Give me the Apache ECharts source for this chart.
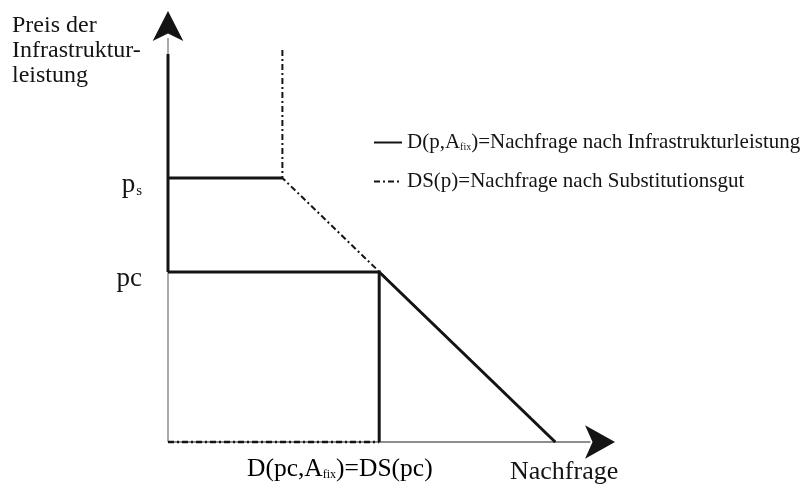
<!DOCTYPE html>
<html>
<head>
<meta charset="utf-8">
<script src="https://cdn.jsdelivr.net/npm/echarts@6/dist/echarts.min.js"></script>
<style>
  html, body { margin: 0; padding: 0; background: #fff; }
  #chart { width: 804px; height: 489px; }
</style>
</head>
<body>
<div id="chart"></div>
<script>
// Price levels (vertical axis units)
const priceSubst = 66;      // p_s
const priceCap = 42.5;      // pc
const priceTop = 97;        // upper end of the demand curve on the price axis
const substTop = 98;        // upper end of the substitute's vertical branch

// Quantities (horizontal axis units)
const qtySubst = 26;        // kink of the substitute demand
const qtyCap = 48;          // D(pc,A_fix) = DS(pc)
const qtyMax = 88;          // demand at price zero

// Demand for the infrastructure service D(p, A_fix)
const demandVertical = [[0, priceTop], [0, priceCap]];
const demandAtPs = [[0, priceSubst], [qtySubst, priceSubst]];
const demandAtPc = [[0, priceCap], [qtyCap, priceCap], [qtyCap, 0]];
const demandSlope = [[qtyCap, priceCap], [qtyMax, 0]];

// Demand for the substitute DS(p)
const substCurve = [[qtySubst, substTop], [qtySubst, priceSubst], [qtyMax, 0]];
const substBase = [[0, 0], [qtyCap, 0]];

// Coordinate axes with arrow heads (arrow tips at the given points)
const axisY = [[0, 0], [0, 101]];
const axisX = [[0, 0], [96, 0]];
const arrowY = [[0, 107.75]];
const arrowX = [[101.6, 0]];

// Tick labels on the price axis
const priceTicks = [priceCap, priceSubst];
const priceTickLabels = { [priceCap]: '{p|pc}', [priceSubst]: '{p|p}{s|s}' };

const NAME_D = 'D(p,A_fix)=Nachfrage nach Infrastrukturleistung';
const NAME_DS = 'DS(p)=Nachfrage nach Substitutionsgut';
const legendText = {
  [NAME_D]: '{t|D(p,A}{sub|fix}{t|)=Nachfrage nach Infrastrukturleistung}',
  [NAME_DS]: '{t|DS(p)=Nachfrage nach Substitutionsgut}'
};

const SERIF = '"Liberation Serif", "DejaVu Serif", serif';
const INK = '#141414';
const AXIS_GRAY = '#8e8e8e';
const dashDot = [6, 3, 2, 3];

const chart = echarts.init(document.getElementById('chart'), null, { renderer: 'canvas' });

function lineSeries(name, data, width, color, type, z) {
  return {
    type: 'line', name: name, data: data, symbol: 'none', z: z,
    lineStyle: { color: color, width: width, type: type, cap: 'butt', join: 'miter' },
    itemStyle: { color: color },
    silent: true, animation: false, clip: false
  };
}

chart.setOption({
  animation: false,
  grid: { left: 168, width: 462, bottom: 47, height: 440, containLabel: false },
  xAxis: { type: 'value', min: 0, max: 105, show: false },
  yAxis: {
    type: 'value', min: 0, max: 110,
    axisLine: { show: false }, axisTick: { show: false }, splitLine: { show: false },
    axisLabel: {
      customValues: priceTicks,
      margin: 26,
      padding: [14, 0, 0, 0],
      formatter: v => priceTickLabels[v] || '',
      rich: {
        p: { fontFamily: SERIF, fontSize: 27, color: INK },
        s: { fontFamily: SERIF, fontSize: 15, color: INK, padding: [12, 0, 0, 1] }
      }
    }
  },
  legend: {
    data: [NAME_D, NAME_DS],
    orient: 'vertical', left: 368, top: 127,
    itemWidth: 28, itemHeight: 14, itemGap: 18,
    selectedMode: false,
    itemStyle: { opacity: 0 },
    formatter: n => legendText[n],
    textStyle: {
      rich: {
        t: { fontFamily: SERIF, fontSize: 21, color: INK },
        sub: { fontFamily: SERIF, fontSize: 10, color: INK, padding: [10, 0, 0, 0] }
      }
    }
  },
  series: [
    lineSeries('', axisY, 1.5, AXIS_GRAY, 'solid', 1),
    lineSeries('', axisX, 2, AXIS_GRAY, 'solid', 1),
    {
      type: 'scatter', data: arrowY, symbol: 'arrow', symbolSize: [23, 30],
      itemStyle: { color: INK, opacity: 1 }, silent: true, z: 5, clip: false
    },
    {
      type: 'scatter', data: arrowX, symbol: 'arrow', symbolSize: [25, 30], symbolRotate: -90,
      itemStyle: { color: INK, opacity: 1 }, silent: true, z: 5, clip: false
    },
    lineSeries(NAME_D, demandVertical, 3, INK, 'solid', 4),
    lineSeries(NAME_D, demandAtPs, 3, INK, 'solid', 4),
    lineSeries(NAME_D, demandAtPc, 3, INK, 'solid', 4),
    lineSeries(NAME_D, demandSlope, 3, INK, 'solid', 4),
    lineSeries(NAME_DS, substCurve, 2, INK, dashDot, 3),
    lineSeries(NAME_DS, substBase, 2.5, INK, dashDot, 3)
  ],
  graphic: [
    {
      type: 'text', left: 12, top: 13, silent: true,
      style: {
        text: 'Preis der\nInfrastruktur-\nleistung',
        font: '24px ' + SERIF, lineHeight: 25, fill: INK
      }
    },
    {
      type: 'text', left: 510, top: 459, silent: true,
      style: { text: 'Nachfrage', font: '26px ' + SERIF, fill: INK }
    },
    {
      type: 'text', left: 247, top: 456, silent: true,
      style: {
        text: '{t|D(pc,A}{sub|fix}{t|)=DS(pc)}',
        rich: {
          t: { fontFamily: SERIF, fontSize: 25.5, color: INK },
          sub: { fontFamily: SERIF, fontSize: 12, color: INK, padding: [12, 0, 0, 0] }
        }
      }
    }
  ]
});
</script>
</body>
</html>
